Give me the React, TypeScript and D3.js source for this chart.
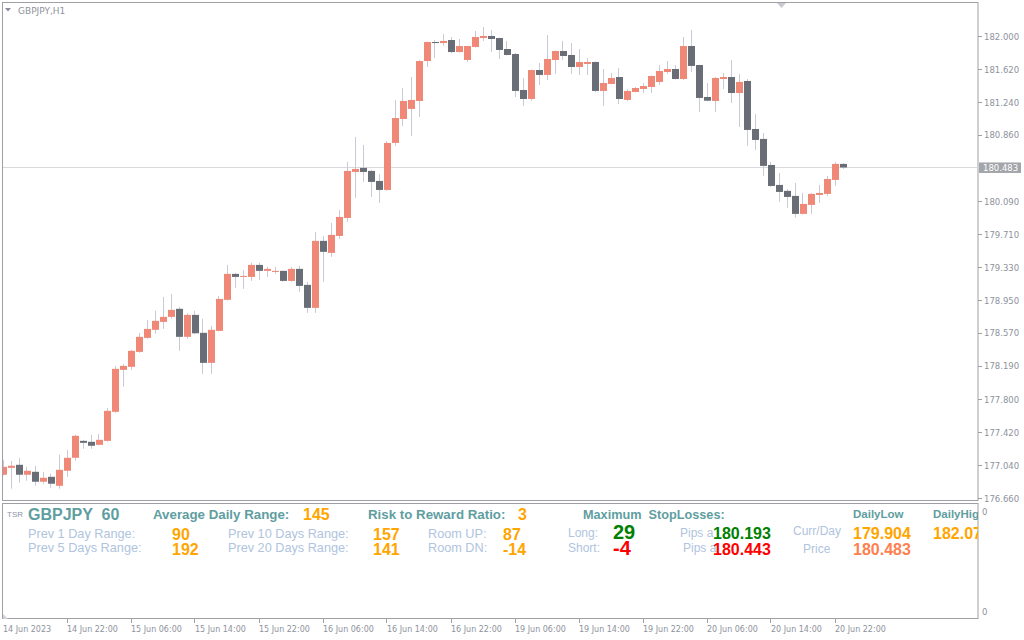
import React from "react";
import * as d3 from "d3";

const opens = [176.929,177.009,177.044,176.929,176.963,176.848,176.905,176.801,176.975,177.125,177.321,177.310,177.275,177.321,177.657,178.142,178.177,178.350,178.512,178.605,178.697,178.755,178.848,178.524,178.778,178.570,178.223,178.593,178.952,179.252,179.217,179.217,179.356,179.287,179.275,179.287,179.171,179.310,179.125,178.859,179.634,179.495,179.691,179.899,180.431,180.478,180.443,180.327,180.223,180.767,181.044,181.160,181.252,181.714,181.934,181.922,181.957,181.818,181.726,181.877,181.980,182.004,181.980,181.853,181.795,181.379,181.275,181.610,181.553,181.726,181.830,181.784,181.645,181.680,181.703,181.368,181.449,181.529,181.264,181.356,181.391,181.414,181.472,181.587,181.622,181.506,181.888,181.668,181.298,181.252,181.506,181.529,181.344,181.483,180.928,180.813,180.512,180.281,180.212,180.154,179.946,180.050,180.165,180.177,180.339,180.524];
const highs = [177.102,177.090,177.125,177.021,177.033,176.963,176.940,177.160,177.218,177.391,177.333,177.391,177.402,177.703,178.188,178.212,178.374,178.570,178.720,178.825,178.986,179.021,178.871,178.801,178.825,178.732,178.651,178.998,179.356,179.264,179.298,179.380,179.380,179.333,179.333,179.290,179.333,179.345,179.160,179.738,179.691,179.842,179.992,180.547,180.836,180.744,180.455,180.408,180.790,181.264,181.402,181.529,181.726,181.940,181.957,182.027,181.992,181.969,181.890,182.061,182.108,182.073,181.985,181.946,181.807,181.518,181.615,181.691,182.015,181.835,181.946,181.922,181.853,181.749,181.708,181.622,181.576,181.633,181.391,181.414,181.460,181.545,181.668,181.714,181.668,181.992,182.075,181.672,181.460,181.529,181.576,181.726,181.564,181.506,181.102,180.882,180.547,180.420,180.235,180.304,180.188,180.188,180.281,180.385,180.547,180.535];
const lows = [176.920,176.767,176.836,176.859,176.801,176.825,176.778,176.767,176.905,177.090,177.229,177.229,177.270,177.310,177.645,177.946,178.142,178.339,178.501,178.559,178.616,178.732,178.362,178.501,178.555,178.096,178.096,178.588,178.945,179.090,179.079,179.171,179.183,179.217,179.252,179.160,179.160,179.044,178.801,178.801,179.160,179.449,179.657,179.853,180.131,180.316,180.142,180.073,180.215,180.732,180.963,180.847,181.067,181.645,181.749,181.888,181.807,181.812,181.703,181.870,181.946,181.818,181.738,181.780,181.298,181.194,181.252,181.437,181.495,181.564,181.726,181.564,181.553,181.553,181.356,181.194,181.445,181.217,181.252,181.352,181.344,181.344,181.437,181.564,181.500,181.495,181.587,181.125,181.250,181.125,181.391,181.229,180.951,180.732,180.686,180.385,180.258,180.085,180.015,179.904,179.940,179.946,180.073,180.154,180.269,180.466];
const closes = [177.021,177.033,176.929,176.975,176.848,176.894,176.825,176.986,177.125,177.379,177.298,177.264,177.333,177.668,178.154,178.188,178.362,178.524,178.616,178.709,178.755,178.836,178.524,178.778,178.565,178.223,178.605,178.963,179.252,179.217,179.229,179.356,179.287,179.310,179.287,179.171,179.310,179.113,178.859,179.634,179.507,179.703,179.911,180.443,180.466,180.431,180.316,180.223,180.767,181.055,181.252,181.264,181.714,181.934,181.922,181.946,181.818,181.888,181.888,181.992,182.004,181.969,181.842,181.784,181.368,181.275,181.610,181.553,181.738,181.830,181.772,181.645,181.703,181.703,181.368,181.460,181.518,181.275,181.368,181.402,181.425,181.541,181.599,181.622,181.506,181.888,181.657,181.287,181.255,181.518,181.529,181.344,181.472,180.917,180.801,180.501,180.269,180.200,180.142,179.946,180.061,180.177,180.188,180.350,180.524,180.483];

const priceTicks = [182.0, 181.62, 181.24, 180.86, 180.09, 179.71, 179.33, 178.95, 178.57, 178.19, 177.8, 177.42, 177.04, 176.66];
const timeTickIndex = [0, 8, 16, 24, 32, 40, 48, 56, 64, 72, 80, 88, 96, 104];
const timeLabels = ["14 Jun 2023", "14 Jun 22:00", "15 Jun 06:00", "15 Jun 14:00", "15 Jun 22:00", "16 Jun 06:00", "16 Jun 14:00", "16 Jun 22:00", "19 Jun 06:00", "19 Jun 14:00", "19 Jun 22:00", "20 Jun 06:00", "20 Jun 14:00", "20 Jun 22:00"];
const lastPrice = 180.483;

const symbolName = "GBPJPY";
const periodMin = "60";
const avgDailyRange = "145";
const riskReward = "3";
const prev1Day = "90";
const prev5Days = "192";
const prev10Days = "157";
const prev20Days = "141";
const roomUp = "87";
const roomDn = "-14";
const slLong = "29";
const slShort = "-4";
const pipsLongPrice = "180.193";
const pipsShortPrice = "180.443";
const dailyLow = "179.904";
const dailyHigh = "182.07";
const currPrice = "180.483";

const BULL = "#EF8877";
const BEAR = "#686D76";
const WICK = "#C8CBD3";
const FRAME = "#A0A0A4";
const AXIS_TXT = "#8E929C";
const TEAL = "#5F9EA0";
const LIGHT = "#B0C4DE";
const ORANGE = "#FFA500";

export default function App() {
  const x = d3.scaleLinear().domain([0, 105]).range([3.5, 843.5]);
  const y = d3.scaleLinear().domain([176.66, 182.0]).range([498, 36.3]);
  const fmt = d3.format(".3f");
  const sans = "'Liberation Sans', Arial, sans-serif";
  const axisFont = "'DejaVu Sans', Verdana, sans-serif";

  const candles = opens.map((o, i) => {
    const c = closes[i];
    const bull = c >= o;
    const top = y(Math.max(o, c));
    const bot = y(Math.min(o, c));
    const cx = x(i);
    return (
      <g key={i}>
        <line x1={Math.round(cx) - 0.5} x2={Math.round(cx) - 0.5} y1={y(highs[i])} y2={y(lows[i])} stroke={WICK} strokeWidth={1} />
        <rect x={cx - 3.5} width={7} y={top} height={Math.max(1, bot - top)} fill={bull ? BULL : BEAR} />
      </g>
    );
  });

  const lp = Math.round(y(lastPrice)) + 0.5;

  return (
    <svg width={1024} height={640} style={{ position: "fixed", left: 0, top: 0, background: "#ffffff" }}>
      <defs>
        <clipPath id="mainClip"><rect x={3} y={3} width={975} height={497} /></clipPath>
        <clipPath id="indClip"><rect x={3} y={504} width={975} height={114} /></clipPath>
      </defs>
      <rect x={0} y={0} width={1024} height={640} fill="#ffffff" />
      <rect x={2.5} y={2.5} width={975.5} height={498} fill="none" stroke={FRAME} />
      <rect x={2.5} y={503.5} width={975.5} height={115} fill="none" stroke={FRAME} />

      <path d="M777,3 L786,3 L781.5,8 Z" fill="#C8CAD0" />

      <g clipPath="url(#mainClip)">
        <line x1={3} x2={978} y1={lp} y2={lp} stroke="#D9D9DD" strokeWidth={1} />
        {candles}
      </g>

      <path d="M5,8 L11,8 L8,11.5 Z" fill="#8A8E98" />
      <text x={18} y={14} fontFamily={axisFont} fontSize={9} fill={AXIS_TXT}>GBPJPY,H1</text>

      {priceTicks.map((p) => (
        <g key={p}>
          <line x1={978} x2={982} y1={Math.round(y(p)) + 0.5} y2={Math.round(y(p)) + 0.5} stroke={FRAME} />
          <text x={984} y={y(p) + 3.5} fontFamily={axisFont} fontSize={8.5} fill={AXIS_TXT}>{fmt(p)}</text>
        </g>
      ))}
      <rect x={979} y={y(lastPrice) - 5} width={42} height={10.5} fill="#A3A5AB" />
      <text x={983} y={y(lastPrice) + 3.5} fontFamily={axisFont} fontSize={8.5} fill="#ffffff">{fmt(lastPrice)}</text>

      <text x={982} y={515} fontFamily={axisFont} fontSize={8.5} fill={AXIS_TXT}>0</text>
      <text x={982} y={615} fontFamily={axisFont} fontSize={8.5} fill={AXIS_TXT}>0</text>

      {timeTickIndex.map((idx, k) => (
        <g key={idx}>
          {k > 0 && <line x1={Math.round(x(idx)) - 0.5} x2={Math.round(x(idx)) - 0.5} y1={619} y2={623} stroke={FRAME} />}
          <text x={k === 0 ? 3 : x(idx) - 0.5} y={632} fontFamily={axisFont} fontSize={8} fill={AXIS_TXT}>{timeLabels[k]}</text>
        </g>
      ))}
      <path d="M3,614 L3,619 L8,619 Z" fill="#D0D2D8" />

      <g clipPath="url(#indClip)" fontFamily={sans}>
        <text x={7} y={517} fontSize={8} fill="#8A94A8">TSR</text>
        <text x={28} y={520} fontSize={16} fontWeight="bold" fill={TEAL} style={{ whiteSpace: "pre" }}>{symbolName + "  " + periodMin}</text>
        <text x={153} y={519} fontSize={13.3} fontWeight="bold" fill={TEAL}>Average Daily Range:</text>
        <text x={303} y={520} fontSize={16} fontWeight="bold" fill={ORANGE}>{avgDailyRange}</text>
        <text x={368} y={519} fontSize={13.3} fontWeight="bold" fill={TEAL}>Risk to Reward Ratio:</text>
        <text x={518} y={520} fontSize={16} fontWeight="bold" fill={ORANGE}>{riskReward}</text>
        <text x={583} y={519} fontSize={12.7} fontWeight="bold" fill={TEAL} style={{ whiteSpace: "pre" }}>Maximum  StopLosses:</text>
        <text x={853} y={518} fontSize={11.5} fontWeight="bold" fill={TEAL}>DailyLow</text>
        <text x={933} y={518} fontSize={11.5} fontWeight="bold" fill={TEAL}>DailyHigh</text>

        <text x={28} y={538} fontSize={12.7} fill={LIGHT}>Prev 1 Day Range:</text>
        <text x={172} y={540} fontSize={16} fontWeight="bold" fill={ORANGE}>{prev1Day}</text>
        <text x={228} y={538} fontSize={12.7} fill={LIGHT}>Prev 10 Days Range:</text>
        <text x={373} y={540} fontSize={16} fontWeight="bold" fill={ORANGE}>{prev10Days}</text>
        <text x={428} y={538} fontSize={12.7} fill={LIGHT}>Room UP:</text>
        <text x={503} y={540} fontSize={16} fontWeight="bold" fill={ORANGE}>{roomUp}</text>
        <text x={568} y={537} fontSize={12} fill={LIGHT}>Long:</text>
        <text x={613} y={539} fontSize={20} fontWeight="bold" fill="#008000">{slLong}</text>
        <text x={680} y={537} fontSize={12} fill={LIGHT}>Pips a</text>
        <text x={713} y={539} fontSize={16} fontWeight="bold" fill="#008000">{pipsLongPrice}</text>
        <text x={793} y={535} fontSize={12} fill={LIGHT}>Curr/Day</text>
        <text x={853} y={539} fontSize={16} fontWeight="bold" fill={ORANGE}>{dailyLow}</text>
        <text x={933} y={539} fontSize={16} fontWeight="bold" fill={ORANGE}>{dailyHigh}</text>

        <text x={28} y={552} fontSize={12.7} fill={LIGHT}>Prev 5 Days Range:</text>
        <text x={172} y={555} fontSize={16} fontWeight="bold" fill={ORANGE}>{prev5Days}</text>
        <text x={228} y={552} fontSize={12.7} fill={LIGHT}>Prev 20 Days Range:</text>
        <text x={373} y={555} fontSize={16} fontWeight="bold" fill={ORANGE}>{prev20Days}</text>
        <text x={428} y={552} fontSize={12.7} fill={LIGHT}>Room DN:</text>
        <text x={503} y={555} fontSize={16} fontWeight="bold" fill={ORANGE}>{roomDn}</text>
        <text x={568} y={552} fontSize={12} fill={LIGHT}>Short:</text>
        <text x={613} y={555} fontSize={20} fontWeight="bold" fill="#FF0000">{slShort}</text>
        <text x={683} y={552} fontSize={12} fill={LIGHT}>Pips a</text>
        <text x={713} y={555} fontSize={16} fontWeight="bold" fill="#FF0000">{pipsShortPrice}</text>
        <text x={803} y={553} fontSize={12} fill={LIGHT}>Price</text>
        <text x={853} y={555} fontSize={16} fontWeight="bold" fill="#FF7F50">{currPrice}</text>
      </g>
    </svg>
  );
}
